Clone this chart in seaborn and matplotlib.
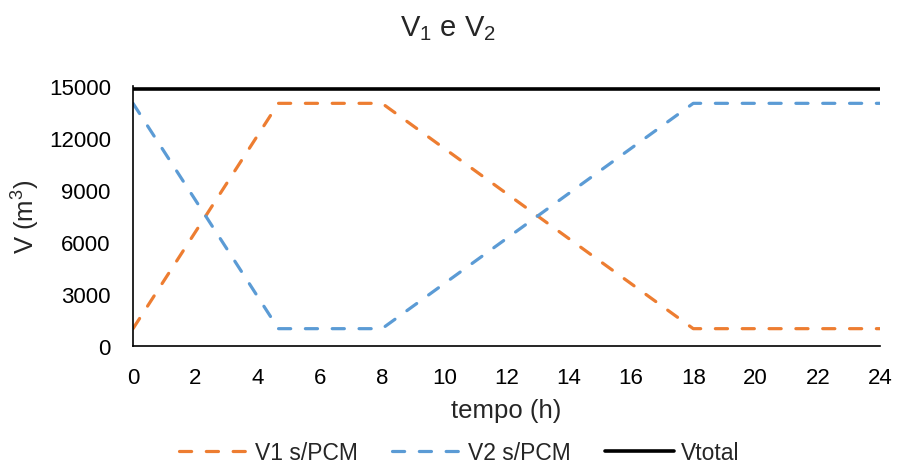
import matplotlib
matplotlib.use("Agg")
import matplotlib.pyplot as plt
import seaborn as sns
import pandas as pd

sns.set_theme(style="white")
plt.rcParams['font.family'] = ['Liberation Sans', 'DejaVu Sans']
plt.rcParams['mathtext.fontset'] = 'custom'
plt.rcParams['mathtext.rm'] = 'Liberation Sans'
plt.rcParams['mathtext.it'] = 'Liberation Sans'
plt.rcParams['mathtext.bf'] = 'Liberation Sans:bold'

tempo = [0, 4.67, 8, 18, 24]
v1 = [1000, 14000, 14000, 1000, 1000]
v2 = [14000, 1000, 1000, 14000, 14000]
vtotal = [14800, 14800, 14800, 14800, 14800]
xticks = list(range(0, 25, 2))
yticks = [0, 3000, 6000, 9000, 12000, 15000]

df = pd.DataFrame({"tempo": tempo, "V1 s/PCM": v1, "V2 s/PCM": v2, "Vtotal": vtotal})

fig = plt.figure(figsize=(8.97, 4.64), dpi=100)
ax = fig.add_axes([133/897, 1-347/464, (880-133)/897, (347-87)/464])

dash = (0, (3.8, 4.6))
sns.lineplot(data=df, x="tempo", y="V1 s/PCM", ax=ax, color="#ED7D31", lw=2.3,
             linestyle=dash, dash_capstyle="round", label="V1 s/PCM")
sns.lineplot(data=df, x="tempo", y="V2 s/PCM", ax=ax, color="#5B9BD5", lw=2.3,
             linestyle=dash, dash_capstyle="round", label="V2 s/PCM")
sns.lineplot(data=df, x="tempo", y="Vtotal", ax=ax, color="black", lw=2.6, label="Vtotal")

ax.set_xlim(0, 24)
ax.set_ylim(0, 15000)
ax.set_xticks(xticks)
ax.set_yticks(yticks)
ax.tick_params(axis='both', labelsize=16, colors='black', length=0)
ax.tick_params(axis='y', pad=16)
ax.tick_params(axis='x', pad=15)
for s in ["top", "right"]:
    ax.spines[s].set_visible(False)
for s in ["left", "bottom"]:
    ax.spines[s].set_color("black")
    ax.spines[s].set_linewidth(1.2)
ax.set_xlabel("tempo (h)", fontsize=18.5, labelpad=7)
ax.set_ylabel("V (m$^3$)", fontsize=18.5, labelpad=5)
fig.suptitle("V$_1$ e V$_2$", fontsize=21, y=0.97)

ax.legend_.remove()
h, l = ax.get_legend_handles_labels()
fig.legend(h, l, loc="center", bbox_to_anchor=(0.512, 0.022), ncol=3, frameon=False,
           fontsize=16.5, handlelength=3.0, columnspacing=1.5, handletextpad=0.3)

fig.savefig("out.png", dpi=100)
